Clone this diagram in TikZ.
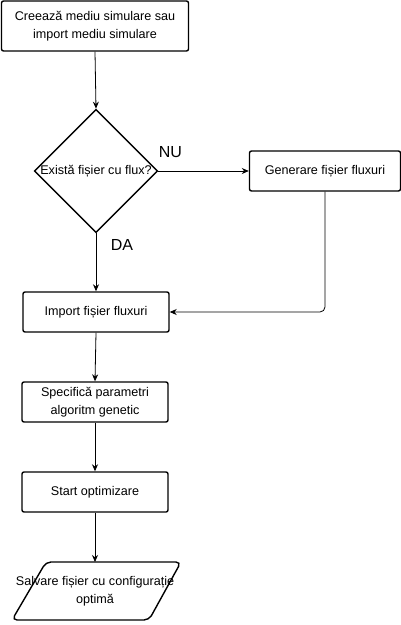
\documentclass[tikz,border=0pt]{standalone}
\usepackage{fontspec}
\setmainfont{Liberation Sans}
\usetikzlibrary{arrows.meta}
\usetikzlibrary{shapes.geometric}

\begin{document}
\begin{tikzpicture}[x=1pt,y=-1pt,
    box/.style={draw, rounded corners=2pt, line width=1.4pt, minimum width=146pt, minimum height=40pt, align=center, inner sep=0pt, font=\fontsize{12.6}{18}\selectfont},
    decision/.style={draw, diamond, line width=1.4pt, minimum width=122pt, minimum height=120pt, inner sep=0pt, font=\fontsize{12.6}{18}\selectfont},
    flow/.style={-{Stealth[length=7pt,width=6pt]}, line width=0.8pt},
    answer/.style={font=\fontsize{16}{18}\selectfont, inner sep=0pt}]

    % fix the page to the size of the picture
    \useasboundingbox (0,0) rectangle (401,625);

    % draw the steps
    \node [box, minimum width=187pt, minimum height=50pt] (mediu) at (95,26) {Creează mediu simulare sau\\import mediu simulare};
    \node [decision] (exista) at (96,171) {Există fișier cu flux?};
    \node [box, minimum width=151pt] (generare) at (325,171) {Generare fișier fluxuri};
    \node [box] (import) at (96,312) {Import fișier fluxuri};
    \node [box] (param) at (95,402) {Specifică parametri\\algoritm genetic};
    \node [box] (start) at (95,492) {Start optimizare};

    % save step, a parallelogram with the text running over its sides
    \draw [line width=1.4pt, rounded corners=5pt] (46,562) -- (181,562) -- (149,620) -- (12,620) -- cycle;
    \coordinate (savetop) at (95,562);
    \node [align=center, inner sep=0pt, font=\fontsize{12.6}{18}\selectfont] (save) at (95,591) {Salvare fișier cu configurație\\optimă};

    % answers of the decision
    \node [answer] (nu) at ([shift={(12,-19)}]exista.east) {NU};
    \node [answer] (da) at ([shift={(26,12)}]exista.south) {DA};

    % draw the arrows
    \draw [flow] (mediu.south) -- (exista.north);
    \draw [flow] (exista.east) -- (generare.west);
    \draw [flow] (exista.south) -- (import.north);
    \draw [flow, rounded corners=5pt] (generare.south) |- (import.east);
    \foreach \a/\b in {import/param, param/start}
        \draw [flow] (\a.south) -- (\b.north);
    \draw [flow] (start.south) -- (savetop);

\end{tikzpicture}
\end{document}
